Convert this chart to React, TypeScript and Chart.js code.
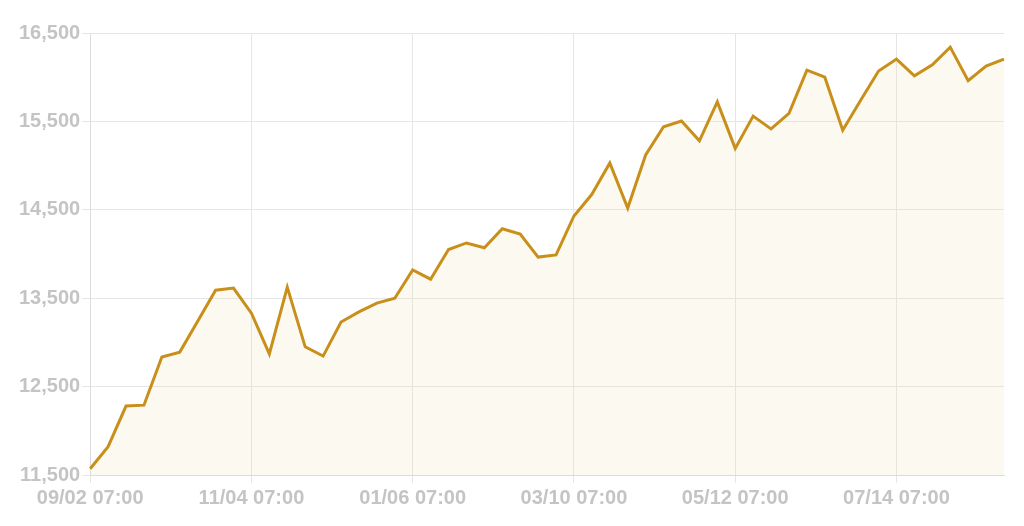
import React, { useEffect, useRef } from "react";
import { Chart, registerables } from "chart.js";

Chart.register(...registerables);

const labels: string[] = [
  "09/02 07:00","09/09 07:00","09/16 07:00","09/23 07:00","09/30 07:00","10/07 07:00","10/14 07:00","10/21 07:00","10/28 07:00",
  "11/04 07:00","11/11 07:00","11/18 07:00","11/25 07:00","12/02 07:00","12/09 07:00","12/16 07:00","12/23 07:00","12/30 07:00",
  "01/06 07:00","01/13 07:00","01/20 07:00","01/27 07:00","02/03 07:00","02/10 07:00","02/17 07:00","02/24 07:00","03/03 07:00",
  "03/10 07:00","03/17 07:00","03/24 07:00","03/31 07:00","04/07 07:00","04/14 07:00","04/21 07:00","04/28 07:00","05/05 07:00",
  "05/12 07:00","05/19 07:00","05/26 07:00","06/02 07:00","06/09 07:00","06/16 07:00","06/23 07:00","06/30 07:00","07/07 07:00",
  "07/14 07:00","07/21 07:00","07/28 07:00","08/04 07:00","08/11 07:00","08/18 07:00","08/25 07:00",
];

const values: number[] = [
  11570, 11820, 12280, 12290, 12835, 12890, 13240, 13590, 13615,
  13330, 12870, 13625, 12950, 12845, 13230, 13345, 13445, 13500,
  13820, 13715, 14050, 14125, 14070, 14285, 14225, 13965, 13990,
  14430, 14675, 15030, 14520, 15120, 15440, 15505, 15280, 15720,
  15195, 15560, 15415, 15590, 16080, 16000, 15400, 15740, 16070,
  16205, 16015, 16140, 16340, 15960, 16125, 16205,
];

const yMin = 11500;
const yMax = 16500;
const yStep = 1000;
const labelEvery = 9;

export default function App() {
  const ref = useRef<HTMLCanvasElement | null>(null);
  useEffect(() => {
    if (!ref.current) return;
    const tickFont = { family: "'Liberation Sans', Arial, sans-serif", size: 20, weight: "bold" as const };
    const chart = new Chart(ref.current, {
      type: "line",
      data: {
        labels,
        datasets: [
          {
            data: values,
            borderColor: "#C98F1B",
            backgroundColor: "rgba(240, 220, 180, 0.18)",
            borderWidth: 3,
            fill: "start",
            pointRadius: 0,
            tension: 0,
          },
        ],
      },
      options: {
        animation: false,
        responsive: true,
        maintainAspectRatio: false,
        layout: { padding: { top: 25, right: 12, left: 9, bottom: 0 } },
        plugins: { legend: { display: false }, tooltip: { enabled: false } },
        scales: {
          x: {
            type: "category",
            offset: false,
            grid: { color: "#e6e6e6", tickLength: 8, drawTicks: true },
            border: { color: "#dcdcdc" },
            ticks: {
              autoSkip: false,
              maxRotation: 0,
              color: "#c4c4c4",
              font: tickFont,
              padding: 3,
              callback: (_v, i) => (i % labelEvery === 0 ? labels[i] : null),
            },
          },
          y: {
            min: yMin,
            max: yMax,
            grid: { color: "#e6e6e6", tickLength: 8 },
            border: { color: "#dcdcdc" },
            ticks: {
              stepSize: yStep,
              color: "#c4c4c4",
              font: tickFont,
              padding: 2,
              callback: (v) => Number(v).toLocaleString("en-US"),
            },
          },
        },
      },
    });
    return () => chart.destroy();
  }, []);
  return (
    <div style={{ width: 1008, height: 505 }}>
      <canvas ref={ref} />
    </div>
  );
}
